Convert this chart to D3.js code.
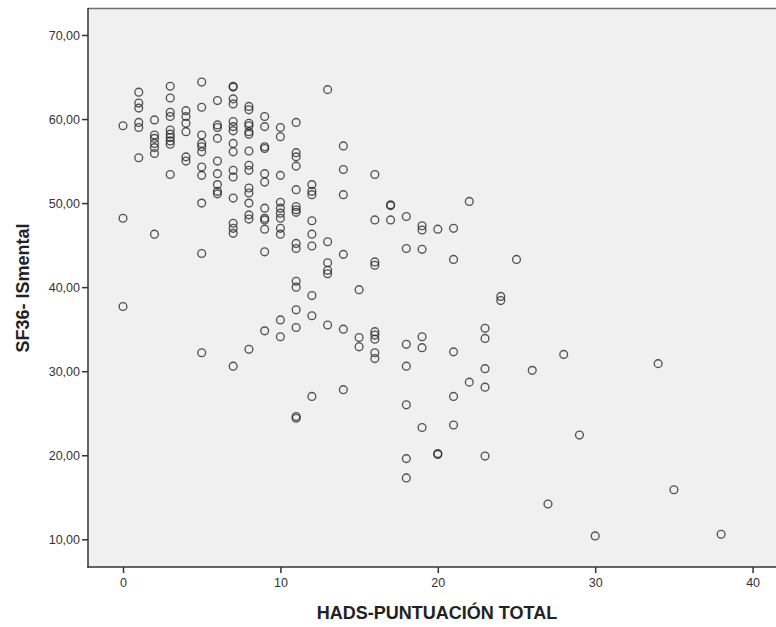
<!DOCTYPE html>
<html>
<head>
<meta charset="utf-8">
<script src="https://cdn.jsdelivr.net/npm/d3@7/dist/d3.min.js"></script>
<style>
  html, body { margin: 0; padding: 0; background: #ffffff; }
  svg { display: block; }
</style>
</head>
<body>
<script>
// HADS total score (x) and SF36 mental summary (y), one entry per respondent
const hadsTotal = [
  0,0,0,
  1,1,1,1,1,1,
  2,2,2,2,2,2,2,
  3,3,3,3,3,3,3,3,3,3,
  4,4,4,4,4,4,
  5,5,5,5,5,5,5,5,5,5,5,
  6,6,6,6,6,6,6,6,6,
  7,7,7,7,7,7,7,7,7,7,7,7,7,7,7,7,
  8,8,8,8,8,8,8,8,8,8,8,8,8,8,8,
  9,9,9,9,9,9,9,9,9,9,9,9,
  10,10,10,10,10,10,10,10,10,10,10,
  11,11,11,11,11,11,11,11,11,11,11,11,11,11,11,11,
  12,12,12,12,12,12,12,12,12,
  13,13,13,13,13,13,
  14,14,14,14,14,14,
  15,15,15,
  16,16,16,16,16,16,16,16,16,
  17,17,17,
  18,18,18,18,18,18,18,
  19,19,19,19,19,19,
  20,20,20,
  21,21,21,21,21,
  22,22,
  23,23,23,23,23,
  24,24,
  25,26,27,28,29,30,34,35,38
];
const sf36Mental = [
  59.2,48.2,37.7,
  63.2,61.9,61.3,59.6,59.0,55.4,
  59.9,58.1,57.7,57.1,56.6,55.9,46.3,
  63.9,62.5,60.8,60.3,58.7,58.2,57.8,57.4,57.0,53.4,
  61.0,60.3,59.5,58.5,55.5,55.0,
  64.4,61.4,58.1,57.1,56.7,56.1,54.3,53.3,50.0,44.0,32.2,
  62.2,59.3,59.0,57.7,55.0,53.5,52.2,51.4,51.1,
  63.9,63.8,62.4,61.8,59.7,59.1,58.6,57.1,56.1,53.9,53.1,50.6,47.6,47.0,46.4,30.6,
  61.5,61.1,59.5,59.2,58.5,58.2,56.2,54.5,53.9,51.8,51.2,50.0,48.6,48.1,32.6,
  60.3,59.1,56.7,56.5,53.5,52.5,49.4,48.2,48.0,46.9,44.2,34.8,
  59.0,57.9,53.3,50.1,49.4,48.2,47.0,46.3,36.1,34.1,48.8,
  59.6,56.0,55.5,54.4,51.6,49.6,49.2,48.9,45.2,44.6,40.7,40.0,37.3,35.2,24.6,24.4,
  52.2,51.4,51.0,47.9,46.3,44.9,39.0,36.6,27.0,
  63.5,45.4,42.9,42.0,41.6,35.5,
  56.8,54.0,51.0,43.9,35.0,27.8,
  39.7,34.0,32.9,
  53.4,48.0,43.0,42.6,34.7,34.3,33.8,32.2,31.5,
  49.8,49.7,48.0,
  48.4,44.6,33.2,30.6,26.0,19.6,17.3,
  47.3,46.8,44.5,34.1,32.8,23.3,
  46.9,20.1,20.2,
  47.0,43.3,32.3,27.0,23.6,
  50.2,28.7,
  35.1,33.9,30.3,28.1,19.9,
  38.9,38.4,
  43.3,30.1,14.2,32.0,22.4,10.4,30.9,15.9,10.6
];
const xTicks = [0, 10, 20, 30, 40];
const yTicks = [10, 20, 30, 40, 50, 60, 70];
const xTitle = "HADS-PUNTUACIÓN TOTAL";
const yTitle = "SF36- ISmental";

const W = 776, H = 627;
const plot = { left: 88, top: 8, right: 790, bottom: 567 };

const svg = d3.select("body").append("svg")
  .attr("width", W).attr("height", H);

const x = d3.scaleLinear().domain([0, 40]).range([123, 752.6]);
const y = d3.scaleLinear().domain([10, 70]).range([539.3, 35]);

// plot background
svg.append("rect")
  .attr("x", plot.left).attr("y", plot.top)
  .attr("width", plot.right - plot.left)
  .attr("height", plot.bottom - plot.top)
  .attr("fill", "#f0f0f0");

// top frame line
svg.append("line")
  .attr("x1", plot.left).attr("x2", plot.right)
  .attr("y1", plot.top + 0.5).attr("y2", plot.top + 0.5)
  .attr("stroke", "#6e6e6e").attr("stroke-width", 1.5);

const fmt = d => d3.format(".2f")(d).replace(".", ",");

// y axis
const yAxis = svg.append("g")
  .attr("transform", `translate(${plot.left},0)`)
  .call(d3.axisLeft(y).tickValues(yTicks).tickFormat(fmt).tickSize(6).tickPadding(2));
yAxis.select(".domain").remove();
svg.append("line")
  .attr("x1", plot.left).attr("x2", plot.left)
  .attr("y1", plot.top).attr("y2", plot.bottom + 0.75)
  .attr("stroke", "#333").attr("stroke-width", 1.5);

// x axis
const xAxis = svg.append("g")
  .attr("transform", `translate(0,${plot.bottom})`)
  .call(d3.axisBottom(x).tickValues(xTicks).tickFormat(d3.format("d")).tickSize(6).tickPadding(5));
xAxis.select(".domain").remove();
svg.append("line")
  .attr("x1", plot.left - 0.75).attr("x2", plot.right)
  .attr("y1", plot.bottom).attr("y2", plot.bottom)
  .attr("stroke", "#333").attr("stroke-width", 1.5);

svg.selectAll(".tick line").attr("stroke", "#333").attr("stroke-width", 1.5);
svg.selectAll(".tick text")
  .attr("fill", "#333")
  .style("font-family", "'Liberation Sans', Arial, sans-serif")
  .style("font-size", "12.5px");

// points
const pts = hadsTotal.map((h, i) => ({ h, v: sf36Mental[i] }));
svg.append("g").selectAll("circle")
  .data(pts).enter().append("circle")
  .attr("cx", d => x(d.h))
  .attr("cy", d => y(d.v))
  .attr("r", 3.9)
  .attr("fill", "none")
  .attr("stroke", "#1e1e1e")
  .attr("stroke-opacity", 0.75)
  .attr("stroke-width", 1.35);

// axis titles
svg.append("text")
  .attr("x", 437).attr("y", 619)
  .attr("text-anchor", "middle")
  .attr("fill", "#222")
  .style("font-family", "'Liberation Sans', Arial, sans-serif")
  .style("font-weight", "bold")
  .style("font-size", "18px")
  .text(xTitle);

svg.append("text")
  .attr("transform", "translate(29,288) rotate(-90)")
  .attr("text-anchor", "middle")
  .attr("fill", "#222")
  .style("font-family", "'Liberation Sans', Arial, sans-serif")
  .style("font-weight", "bold")
  .style("font-size", "18px")
  .text(yTitle);
</script>
</body>
</html>
